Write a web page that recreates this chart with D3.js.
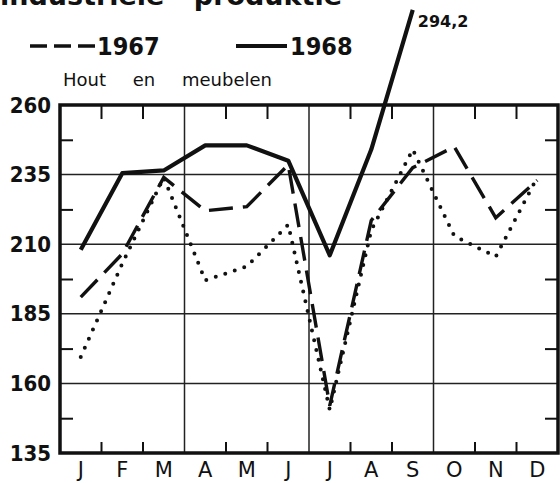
<!DOCTYPE html>
<html>
<head>
<meta charset="utf-8">
<script src="https://cdn.jsdelivr.net/npm/d3@7"></script>
<style>
  body { margin: 0; background: #fff; overflow: hidden; }
  svg { display: block; }
  text { fill: #111; font-family: "DejaVu Sans", sans-serif; }
</style>
</head>
<body>
<div id="chart"></div>
<script>
// months and index values (Hout en meubelen)
var months = ["J","F","M","A","M2","J2","J3","A2","S","O","N","D"];
var monthLabels = ["J","F","M","A","M","J","J","A","S","O","N","D"];
var y1968 = [208, 235.5, 236.5, 245.5, 245.5, 240, 206, 244, 294.2];
var y1967 = [191, 206.5, 234, 222, 223.5, 238.5, 152, 218.5, 237.5, 245, 219.5, 233];
var y1966 = [169.5, 203, 234, 197, 202, 217, 150.5, 215, 244, 213, 205.5, 234];
var yTicks = [135, 160, 185, 210, 235, 260];
var yMinor = [147.5, 172.5, 197.5, 222.5, 247.5];

var w = 560, h = 483;
var pLeft = 60, pRight = 558, pTop = 105, pBottom = 453;

var svg = d3.select("#chart").append("svg")
    .attr("width", w)
    .attr("height", h);

var x = d3.scaleBand().domain(months).range([pLeft, pRight]);
var y = d3.scaleLinear().domain([135, 260]).range([pBottom, pTop]);
function cx(m) { return x(m) + x.bandwidth() / 2; }

// title, cut at the top edge
svg.append("text")
    .attr("x", 342).attr("y", 5)
    .attr("text-anchor", "end")
    .style("font-size", "27px").style("font-weight", "bold")
    .style("word-spacing", "20px")
    .text("Index van de industriële produktie");

// legend
svg.append("line")
    .attr("x1", 30).attr("x2", 96).attr("y1", 46).attr("y2", 46)
    .attr("stroke", "#111").attr("stroke-width", 3.5)
    .attr("stroke-dasharray", "17,7");
svg.append("text")
    .attr("x", 97).attr("y", 55)
    .style("font-family", "DejaVu Sans Condensed")
    .style("font-size", "25px").style("font-weight", "bold")
    .text("1967");
svg.append("line")
    .attr("x1", 236).attr("x2", 287).attr("y1", 46).attr("y2", 46)
    .attr("stroke", "#111").attr("stroke-width", 4);
svg.append("text")
    .attr("x", 290).attr("y", 55)
    .style("font-family", "DejaVu Sans Condensed")
    .style("font-size", "25px").style("font-weight", "bold")
    .text("1968");

svg.append("text")
    .attr("x", 63).attr("y", 86)
    .style("font-size", "18px")
    .style("word-spacing", "21px")
    .text("Hout en meubelen");

// grid
svg.append("g").selectAll("line")
    .data(yTicks.slice(1, -1))
    .enter().append("line")
    .attr("x1", pLeft).attr("x2", pRight)
    .attr("y1", function(d) { return y(d); })
    .attr("y2", function(d) { return y(d); })
    .attr("stroke", "#222").attr("stroke-width", 1.5);

svg.append("g").selectAll("line")
    .data(["M", "J2", "S"])
    .enter().append("line")
    .attr("x1", function(d) { return x(d) + x.bandwidth(); })
    .attr("x2", function(d) { return x(d) + x.bandwidth(); })
    .attr("y1", pTop).attr("y2", pBottom)
    .attr("stroke", "#222").attr("stroke-width", 1.5);

// minor ticks left and right
svg.append("g")
    .attr("transform", "translate(" + pLeft + ",0)")
    .call(d3.axisRight(y).tickValues(yMinor).tickSize(13).tickFormat(""))
    .call(function(g) { g.select(".domain").remove(); })
    .selectAll("line").attr("stroke", "#111").attr("stroke-width", 2);
svg.append("g")
    .attr("transform", "translate(" + pRight + ",0)")
    .call(d3.axisLeft(y).tickValues(yMinor).tickSize(13).tickFormat(""))
    .call(function(g) { g.select(".domain").remove(); })
    .selectAll("line").attr("stroke", "#111").attr("stroke-width", 2);

// month boundary ticks top and bottom
var bounds = months.filter(function(d, i) { return i % 3 != 2; });
svg.append("g").selectAll("line")
    .data(bounds)
    .enter().append("line")
    .attr("x1", function(d) { return x(d) + x.bandwidth(); })
    .attr("x2", function(d) { return x(d) + x.bandwidth(); })
    .attr("y1", pTop).attr("y2", pTop + 14)
    .attr("stroke", "#111").attr("stroke-width", 2);
svg.append("g").selectAll("line")
    .data(bounds)
    .enter().append("line")
    .attr("x1", function(d) { return x(d) + x.bandwidth(); })
    .attr("x2", function(d) { return x(d) + x.bandwidth(); })
    .attr("y1", pBottom - 11).attr("y2", pBottom)
    .attr("stroke", "#111").attr("stroke-width", 2);

// frame
svg.append("rect")
    .attr("x", pLeft).attr("y", pTop)
    .attr("width", pRight - pLeft).attr("height", pBottom - pTop)
    .attr("fill", "none").attr("stroke", "#111").attr("stroke-width", 3.5);

// y labels
var yAxis = svg.append("g")
    .attr("transform", "translate(" + (pLeft - 6) + ",0)")
    .call(d3.axisLeft(y).tickValues(yTicks).tickSize(0).tickFormat(d3.format("d")));
yAxis.select(".domain").remove();
yAxis.selectAll("text")
    .style("font-family", "DejaVu Sans Condensed").style("font-size", "22px")
    .style("font-weight", "bold").attr("fill", "#111");

// month labels
var xAxis = svg.append("g")
    .attr("transform", "translate(0," + (pBottom + 6) + ")")
    .call(d3.axisBottom(x).tickSize(0).tickFormat(function(d, i) { return monthLabels[i]; }));
xAxis.select(".domain").remove();
xAxis.selectAll("text")
    .style("font-family", "DejaVu Sans").style("font-size", "21px")
    .attr("fill", "#111");

// series
var line = d3.line()
    .x(function(d, i) { return cx(months[i]); })
    .y(function(d) { return y(d); });

svg.append("path")
    .datum(y1966)
    .attr("d", line)
    .attr("fill", "none").attr("stroke", "#111")
    .attr("stroke-width", 4).attr("stroke-linecap", "round")
    .attr("stroke-dasharray", "0,10");

svg.append("path")
    .datum(y1967)
    .attr("d", line)
    .attr("fill", "none").attr("stroke", "#111")
    .attr("stroke-width", 3.4)
    .attr("stroke-dasharray", "24,10");

svg.append("path")
    .datum(y1968)
    .attr("d", line)
    .attr("fill", "none").attr("stroke", "#111")
    .attr("stroke-width", 4.2).attr("stroke-linejoin", "round");

var last = y1968.length - 1;
svg.append("text")
    .attr("x", cx(months[last]) + 5)
    .attr("y", y(y1968[last]) + 17)
    .style("font-size", "16px").style("font-weight", "bold")
    .text(d3.format(".1f")(y1968[last]).replace(".", ","));
</script>
</body>
</html>
